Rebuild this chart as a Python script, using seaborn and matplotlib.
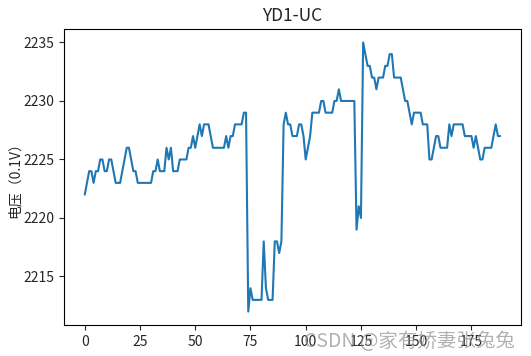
import numpy as np
import pandas as pd
import matplotlib
matplotlib.use("Agg")
import matplotlib.pyplot as plt
import seaborn as sns

# voltage readings, index 0..188
voltage = [
    2222, 2223, 2224, 2224, 2223, 2224, 2224, 2225, 2225, 2224,
    2224, 2225, 2225, 2224, 2223, 2223, 2223, 2224, 2225, 2226,
    2226, 2225, 2224, 2224, 2223, 2223, 2223, 2223, 2223, 2223,
    2223, 2224, 2224, 2225, 2224, 2224, 2224, 2226, 2225, 2226,
    2224, 2224, 2224, 2225, 2225, 2225, 2225, 2226, 2226, 2227,
    2226, 2227, 2228, 2227, 2228, 2228, 2228, 2227, 2226, 2226,
    2226, 2226, 2226, 2226, 2227, 2226, 2227, 2227, 2228, 2228,
    2228, 2228, 2229, 2229, 2212, 2214, 2213, 2213, 2213, 2213,
    2213, 2218, 2214, 2213, 2213, 2213, 2218, 2218, 2217, 2218,
    2228, 2229, 2228, 2228, 2227, 2227, 2227, 2228, 2228, 2227,
    2225, 2226, 2227, 2229, 2229, 2229, 2229, 2230, 2230, 2229,
    2229, 2229, 2229, 2230, 2230, 2231, 2230, 2230, 2230, 2230,
    2230, 2230, 2230, 2219, 2221, 2220, 2235, 2234, 2233, 2233,
    2232, 2232, 2231, 2232, 2232, 2232, 2233, 2233, 2234, 2234,
    2232, 2232, 2232, 2232, 2231, 2230, 2230, 2229, 2228, 2229,
    2229, 2229, 2229, 2228, 2228, 2228, 2225, 2225, 2226, 2227,
    2227, 2226, 2226, 2226, 2226, 2228, 2227, 2228, 2228, 2228,
    2228, 2228, 2227, 2227, 2227, 2227, 2226, 2227, 2226, 2225,
    2225, 2226, 2226, 2226, 2226, 2227, 2228, 2227, 2227,
]
title = "YD1-UC"
ylabel = "电压（0.1V）"
watermark = "CSDN @家有娇妻张兔兔"

sns.set_style("ticks")
plt.rcParams["font.family"] = ["Noto Sans CJK SC", "DejaVu Sans"]
plt.rcParams["axes.unicode_minus"] = False

df = pd.DataFrame({"idx": np.arange(len(voltage)), "voltage": voltage})

fig = plt.figure(figsize=(5.31, 3.56), dpi=100)
ax = fig.add_axes([0.1205, 0.087, 0.8605, 0.8315])
sns.lineplot(data=df, x="idx", y="voltage", ax=ax, color="#1f77b4", linewidth=1.5)

ax.set_title(title, fontsize=12.5)
ax.set_xlabel("")
ax.set_ylabel(ylabel, fontsize=10, labelpad=1)
ax.set_xticks(np.arange(0, 200, 25))
ax.set_yticks(np.arange(2215, 2240, 5))
ax.tick_params(labelsize=10, length=3.5, width=0.8)
for s in ax.spines.values():
    s.set_linewidth(0.8)
    s.set_color("black")

# CSDN watermark from the source image
fig.text(0.97, 0.04, watermark, ha="right", va="center", fontsize=14,
         color="#888888", alpha=0.65)

fig.savefig("out.png", dpi=100)
